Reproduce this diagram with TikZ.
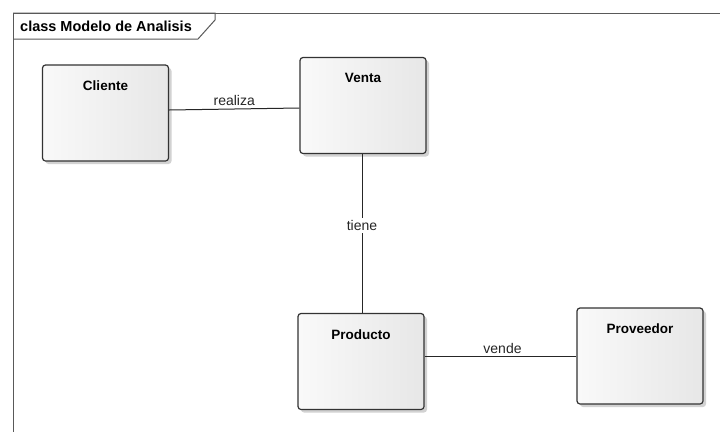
\documentclass[tikz,border=0pt]{standalone}
\usepackage{fontspec}
\setmainfont{Liberation Sans}
\usetikzlibrary{shadows}

% soft left-to-right fill used by the class boxes
\pgfdeclarehorizontalshading{classfill}{100bp}{%
  color(0bp)=(black!8); color(8bp)=(white); color(30bp)=(white!97!black);
  color(100bp)=(black!13)}

\tikzset{
  classbox/.style={draw=black!80, line width=1.2pt, rounded corners=3pt,
    shading=classfill, shading angle=0,
    minimum width=126pt, minimum height=96pt, inner sep=0pt,
    drop shadow={shadow xshift=3pt, shadow yshift=-3pt, fill=black!22, opacity=0.8}},
  classname/.style={font=\fontsize{13.5}{16}\selectfont\bfseries},
  assoc/.style={draw=black!85, line width=1pt},
  assoclabel/.style={font=\fontsize{14}{16}\selectfont, text=black!85, inner sep=1pt},
  framestroke/.style={draw=black!65, line width=1pt}
}

\begin{document}
\begin{tikzpicture}[x=1pt, y=-1pt]
  \useasboundingbox[fill=white] (0,0) rectangle (720,432);

  % diagram frame and its name tab
  \draw[framestroke] (720,13) -- (13,13) -- (13,432);
  \draw[framestroke] (13,13) -- (215,13) -- (215,20) -- (198,39) -- (13,39);
  \node[font=\fontsize{14.5}{16}\selectfont\bfseries, anchor=west, inner sep=0pt]
    (frametitle) at (20,26.5) {class Modelo de Analisis};

  % classes
  \node[classbox, label={[classname, anchor=north, yshift=-13pt]north:Cliente}]
    (cliente) at (105.5,113) {};
  \node[classbox, label={[classname, anchor=north, yshift=-13pt]north:Venta}]
    (venta) at (363,105.5) {};
  \node[classbox, label={[classname, anchor=north, yshift=-13pt]north:Producto}]
    (producto) at (361,361.5) {};
  \node[classbox, label={[classname, anchor=north, yshift=-13pt]north:Proveedor}]
    (proveedor) at (640,356) {};

  % associations
  \draw[assoc] ([yshift=3pt]cliente.east) -- ([yshift=-2.5pt]venta.west)
    node[assoclabel, midway, above, yshift=2pt] (lblrealiza) {realiza};
  \draw[assoc] ([xshift=-1pt]venta.south) -- ([xshift=1pt]producto.north)
    node[assoclabel, pos=0.45, fill=white, inner sep=2pt] (lbltiene) {tiene};
  \draw[assoc] (proveedor.west -| producto.east) -- (proveedor.west)
    node[assoclabel, midway, above, xshift=2pt, yshift=1pt] (lblvende) {vende};
\end{tikzpicture}
\end{document}
